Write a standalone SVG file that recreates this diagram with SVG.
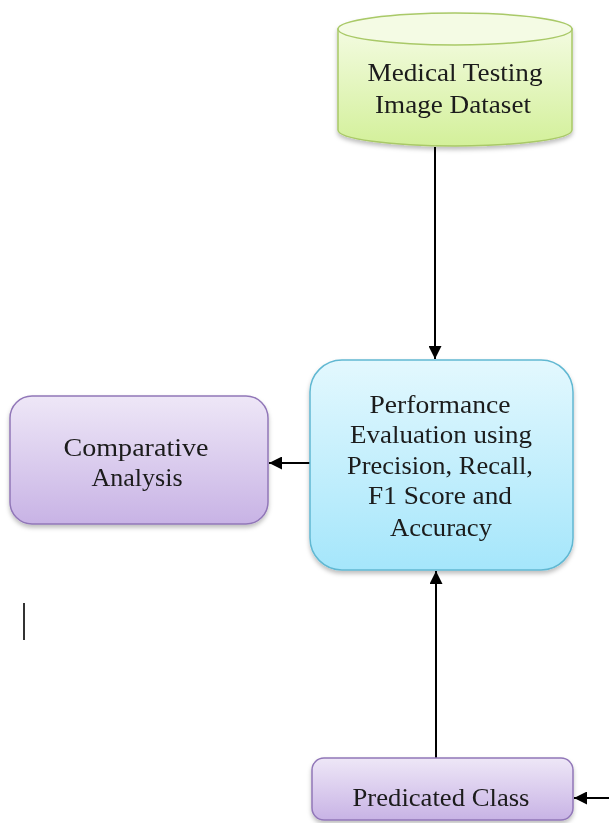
<svg xmlns="http://www.w3.org/2000/svg" width="609" height="823" viewBox="0 0 609 823">
<style>
text{font-family:"Liberation Serif","Times New Roman",serif;font-size:26px;fill:#1a1a1a;text-anchor:middle}
.conn{stroke:#000;stroke-width:2;fill:none}
</style>
<defs>
<linearGradient id="gG" x1="0" y1="0" x2="0" y2="1"><stop offset="0" stop-color="#f3fbe0"/><stop offset="1" stop-color="#d3f09a"/></linearGradient>
<linearGradient id="gB" x1="0" y1="0" x2="0" y2="1"><stop offset="0" stop-color="#e3f8fe"/><stop offset="1" stop-color="#a5e6fb"/></linearGradient>
<linearGradient id="gP" x1="0" y1="0" x2="0" y2="1"><stop offset="0" stop-color="#eee7f7"/><stop offset="1" stop-color="#c8b3e5"/></linearGradient>
<filter id="sh" x="-10%" y="-10%" width="120%" height="130%"><feDropShadow dx="0" dy="3" stdDeviation="2" flood-color="#000" flood-opacity="0.25"/></filter>
<marker id="ah" viewBox="0 0 10 10" refX="10" refY="5" markerWidth="6.5" markerHeight="6.5" orient="auto-start-reverse" markerUnits="strokeWidth"><path d="M0,0L10,5L0,10z" fill="#000"/></marker>
</defs>
<g id="connectors">
<line class="conn" x1="435" y1="147" x2="435" y2="359" marker-end="url(#ah)"/>
<line class="conn" x1="310" y1="463" x2="269" y2="463" marker-end="url(#ah)"/>
<line class="conn" x1="436" y1="758" x2="436" y2="571" marker-end="url(#ah)"/>
<line class="conn" x1="609" y1="798" x2="574" y2="798" marker-end="url(#ah)"/>
</g>
<g id="dataset" filter="url(#sh)">
<path d="M338,29 L338,130 A117,16 0 0 0 572,130 L572,29 Z" fill="url(#gG)" stroke="#a9c967" stroke-width="1.5"/>
<ellipse cx="455" cy="29" rx="117" ry="16" fill="#f4fbe4" stroke="#a9c967" stroke-width="1.5"/>
<text x="455" y="81" textLength="175" lengthAdjust="spacingAndGlyphs">Medical Testing</text>
<text x="453" y="113" textLength="156" lengthAdjust="spacingAndGlyphs">Image Dataset</text>
</g>
<g id="performance" filter="url(#sh)">
<rect x="310" y="360" width="263" height="210" rx="32" fill="url(#gB)" stroke="#61b8d2" stroke-width="1.5"/>
<text x="440" y="413" textLength="141" lengthAdjust="spacingAndGlyphs">Performance</text>
<text x="441" y="443" textLength="182" lengthAdjust="spacingAndGlyphs">Evaluation using</text>
<text x="440" y="474" textLength="186" lengthAdjust="spacingAndGlyphs">Precision, Recall,</text>
<text x="440" y="504" textLength="144" lengthAdjust="spacingAndGlyphs">F1 Score and</text>
<text x="441" y="536" textLength="102" lengthAdjust="spacingAndGlyphs">Accuracy</text>
</g>
<g id="comparative" filter="url(#sh)">
<rect x="10" y="396" width="258" height="128" rx="22" fill="url(#gP)" stroke="#9177b8" stroke-width="1.5"/>
<text x="136" y="456" textLength="145" lengthAdjust="spacingAndGlyphs">Comparative</text>
<text x="137" y="486" textLength="91" lengthAdjust="spacingAndGlyphs">Analysis</text>
</g>
<g id="predicated" filter="url(#sh)">
<rect x="312" y="758" width="261" height="62" rx="12" fill="url(#gP)" stroke="#9177b8" stroke-width="1.5"/>
<text x="441" y="806" textLength="177" lengthAdjust="spacingAndGlyphs">Predicated Class</text>
</g>
<line x1="24" y1="603" x2="24" y2="640" stroke="#333" stroke-width="2"/>
</svg>
